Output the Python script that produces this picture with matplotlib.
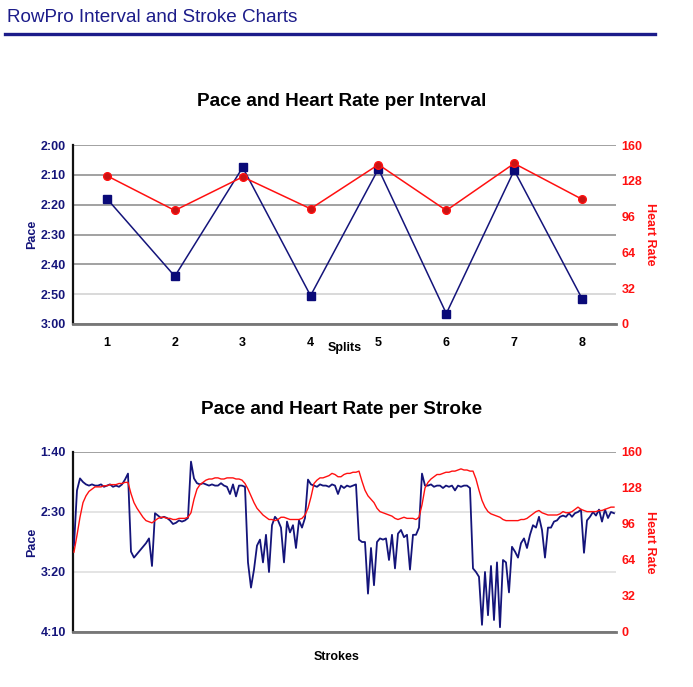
import numpy as np
import matplotlib
matplotlib.use("Agg")
import matplotlib.pyplot as plt
from matplotlib.ticker import FuncFormatter
from matplotlib.lines import Line2D

plt.rcParams['font.family'] = ['Liberation Sans', 'DejaVu Sans']

# --- interval data ---
splits = [1, 2, 3, 4, 5, 6, 7, 8]
split_pace = [138, 164, 127.5, 170.5, 128, 176.5, 128.5, 171.5]   # seconds / 500m
split_hr = [132.5, 101.5, 131.5, 103, 142.5, 101.5, 143.5, 111.5]

# --- stroke data ---
stroke_pace = [
    178, 132, 122, 125, 127, 128, 127, 128, 128, 127, 129, 128, 127, 129, 128, 129, 127, 123, 118,
    183, 188, 185, 182, 179, 176, 172, 195, 151, 153, 155, 154, 155, 157, 160, 159, 157, 158, 157, 155,
    108, 122, 126, 127, 126, 127, 128, 127, 128, 128, 126, 128, 129, 135, 127, 137, 128, 128, 129,
    192, 213, 198, 178, 173, 192, 169, 200, 161, 154, 157, 163, 192, 158, 167, 161, 180, 157, 163, 155,
    123, 127, 128, 129, 127, 128, 128, 129, 127, 128, 135, 128, 130, 128, 129, 128, 127,
    173, 175, 175, 218, 180, 211, 175, 172, 173, 172, 190, 169, 197, 168, 165, 171, 169, 198, 169, 169, 163,
    118, 128, 128, 127, 129, 128, 128, 130, 128, 129, 128, 132, 128, 129, 128, 128, 130,
    197, 200, 204, 244, 200, 236, 195, 240, 192, 246, 190, 192, 217, 179, 183, 188, 176, 172, 180, 169,
    161, 163, 154, 165, 188, 163, 163, 158, 157, 154, 153, 154, 151, 154, 151, 150, 148, 184, 157, 154,
    150, 153, 148, 158, 148, 155, 150, 151,
]
stroke_hr = [
    71, 86, 102, 115, 121, 125, 127, 129, 129, 129, 130, 130, 131, 131, 131, 132, 132, 133, 133,
    123, 115, 110, 106, 102, 99, 98, 97, 99, 101, 102, 102, 101, 101, 100, 100, 101, 101, 101, 102,
    106, 118, 127, 131, 133, 135, 136, 136, 137, 137, 136, 136, 137, 137, 137, 136, 136, 135, 132,
    127, 121, 115, 110, 107, 104, 102, 100, 100, 99, 100, 102, 102, 101, 100, 100, 100, 100, 101, 104,
    110, 120, 132, 135, 137, 137, 138, 139, 141, 140, 138, 138, 140, 141, 141, 142, 142,
    143, 134, 126, 121, 118, 115, 110, 107, 106, 105, 104, 103, 101, 100, 101, 102, 101, 101, 101, 100, 102,
    113, 128, 133, 136, 138, 140, 140, 141, 142, 142, 143, 143, 144, 145, 144, 144, 143,
    143, 136, 126, 117, 111, 107, 105, 104, 103, 102, 100, 99, 99, 99, 99, 99, 100, 100, 101, 103,
    105, 107, 108, 106, 105, 104, 104, 104, 104, 105, 107, 106, 106, 107, 109, 111, 109, 108, 107, 107,
    107, 107, 108, 108, 109, 110, 111, 111,
]

NAVY = '#14147a'
RED = '#ff1010'


def pace_fmt(v, pos):
    v = int(round(v))
    return "%d:%02d" % (v // 60, v % 60)


def style_axes(ax, ax2, pace_ticks, hr_ticks, grid_colors):
    ax.set_yticks(pace_ticks)
    ax.yaxis.set_major_formatter(FuncFormatter(pace_fmt))
    for t, c in zip(pace_ticks, grid_colors):
        ax.axhline(t, color=c, lw=1.1, zorder=0)
    ax.tick_params(axis='y', length=0, pad=5, labelsize=9, labelcolor=NAVY)
    ax.tick_params(axis='x', length=0, pad=9, labelsize=9, labelcolor='black')
    for lab in ax.get_yticklabels() + ax.get_xticklabels():
        lab.set_fontweight('bold')
    ax.spines['top'].set_visible(False)
    ax.spines['right'].set_visible(False)
    ax.spines['left'].set_color('#111111')
    ax.spines['left'].set_linewidth(1.6)
    ax.spines['bottom'].set_color('#777777')
    ax.spines['bottom'].set_linewidth(2)
    ax.set_ylabel('Pace', color=NAVY, fontsize=9, fontweight='bold', labelpad=2)

    ax2.set_ylim(0, 160)
    ax2.set_yticks(hr_ticks)
    ax2.tick_params(axis='y', length=0, pad=4, labelsize=9, labelcolor=RED)
    for lab in ax2.get_yticklabels():
        lab.set_fontweight('bold')
    for s in ax2.spines.values():
        s.set_visible(False)
    ax2.set_ylabel('Heart Rate', color=RED, fontsize=9, fontweight='bold',
                   rotation=270, labelpad=10)


fig = plt.figure(figsize=(6.93, 6.87), dpi=100)

# header
fig.text(7 / 693, 1 - 17 / 687, 'RowPro Interval and Stroke Charts', color='#1c1c8a',
         fontsize=13.6, ha='left', va='center')
fig.add_artist(Line2D([5 / 693, 655 / 693], [1 - 34 / 687] * 2, color='#1c1c8a', lw=2.4))

hr_ticks = [0, 32, 64, 96, 128, 160]

# ---- interval chart ----
ax = fig.add_axes([73 / 693, 1 - 324 / 687, 543 / 693, 179 / 687])
ax2 = ax.twinx()
ax.plot(splits, split_pace, color=NAVY, lw=1.1, marker='s', ms=5.5,
        mfc='#0a0a78', mec='#0a0a78', zorder=3)
ax2.plot(splits, split_hr, color=RED, lw=1.1, marker='o', ms=5.5,
         mfc='#c81414', mec=RED, zorder=3)
ax.set_xlim(0.5, 8.5)
ax.set_ylim(180, 120)
ax.set_xticks(splits)
style_axes(ax, ax2, [120, 130, 140, 150, 160, 170, 180],
           hr_ticks, ['#888888'] * 5 + ['#d0d0d0', '#888888'])
fig.text(345 / 693, 1 - 348 / 687, 'Splits', fontsize=9, fontweight='bold',
         ha='center', va='center')
fig.text(342 / 693, 1 - 101 / 687, 'Pace and Heart Rate per Interval', fontsize=13.6,
         fontweight='bold', ha='center', va='center')

# ---- stroke chart ----
bx = fig.add_axes([73 / 693, 1 - 632 / 687, 543 / 693, 180 / 687])
bx2 = bx.twinx()
xs = np.arange(len(stroke_pace))
xh = np.arange(len(stroke_hr))
bx.plot(xs, stroke_pace, color=NAVY, lw=1.3, zorder=3)
bx2.plot(xh, stroke_hr, color=RED, lw=1.0, zorder=3)
bx.set_xlim(-0.33, len(stroke_pace) - 1 + 0.67)
bx.set_ylim(250, 100)
bx.set_xticks([])
style_axes(bx, bx2, [100, 150, 200, 250], hr_ticks,
           ['#888888', '#dddddd', '#dddddd', '#888888'])
fig.text(337 / 693, 1 - 657 / 687, 'Strokes', fontsize=9, fontweight='bold',
         ha='center', va='center')
fig.text(342 / 693, 1 - 410 / 687, 'Pace and Heart Rate per Stroke', fontsize=13.6,
         fontweight='bold', ha='center', va='center')

fig.savefig('out.png', dpi=100)
